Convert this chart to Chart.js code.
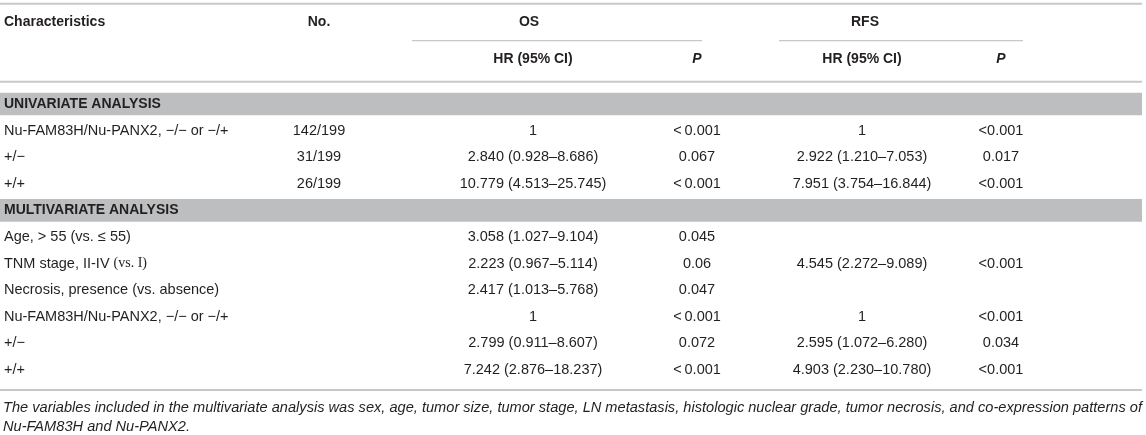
<!DOCTYPE html>
<html>
<head>
<meta charset="utf-8">
<script src="https://cdn.jsdelivr.net/npm/chart.js@4.4.1/dist/chart.umd.min.js"></script>
<style>
  html, body { margin: 0; padding: 0; background: #fff; }
  #wrap { width: 1146px; height: 435px; position: relative; }
</style>
</head>
<body>
<div id="wrap"><canvas id="myChart"></canvas></div>
<script>
// table content
var headerTop = ['Characteristics', 'No.', 'OS', 'RFS']
var headerSub = ['HR (95% CI)', 'P', 'HR (95% CI)', 'P']

var rowLabels = [
  'UNIVARIATE ANALYSIS',
  'Nu-FAM83H/Nu-PANX2, \u2212/\u2212 or \u2212/+',
  '+/\u2212',
  '+/+',
  'MULTIVARIATE ANALYSIS',
  'Age, > 55 (vs. \u2264 55)',
  'TNM stage, II-IV (vs. I)',
  'Necrosis, presence (vs. absence)',
  'Nu-FAM83H/Nu-PANX2, \u2212/\u2212 or \u2212/+',
  '+/\u2212',
  '+/+'
]
var sectionRows = [true, false, false, false, true, false, false, false, false, false, false]
var patientNo = ['', '142/199', '31/199', '26/199', '', '', '', '', '', '', '']
var osHR = ['', '1', '2.840 (0.928\u20138.686)', '10.779 (4.513\u201325.745)', '',
  '3.058 (1.027\u20139.104)', '2.223 (0.967\u20135.114)', '2.417 (1.013\u20135.768)',
  '1', '2.799 (0.911\u20138.607)', '7.242 (2.876\u201318.237)']
var osP = ['', '<\u20090.001', '0.067', '<\u20090.001', '', '0.045', '0.06', '0.047', '<\u20090.001', '0.072', '<\u20090.001']
var rfsHR = ['', '1', '2.922 (1.210\u20137.053)', '7.951 (3.754\u201316.844)', '',
  '', '4.545 (2.272\u20139.089)', '', '1', '2.595 (1.072\u20136.280)', '4.903 (2.230\u201310.780)']
var rfsP = ['', '<0.001', '0.017', '<0.001', '', '', '<0.001', '', '<0.001', '0.034', '<0.001']

var footnote = [
  'The variables included in the multivariate analysis was sex, age, tumor size, tumor stage, LN metastasis, histologic nuclear grade, tumor necrosis, and co-expression patterns of',
  'Nu-FAM83H and Nu-PANX2.'
]

// column anchors on the x scale (0..1146)
var col = {
  label: 4, no: 319,
  osHead: 529, osLine: [412, 702], osHR: 533, osP: 697,
  rfsHead: 865, rfsLine: [779, 1023], rfsHR: 862, rfsP: 1001,
  right: 1142
}
var textColor = '#231f20'
var ruleColor = '#c8c8c8'
var sans = 'Liberation Sans, Arial, Helvetica, sans-serif'

var tablePlugin = {
  id: 'tableText',
  afterDatasetsDraw: function (chart) {
    var ctx = chart.ctx
    var x = chart.scales.x
    var y = chart.scales.y
    var top = chart.chartArea.top
    var px = function (v) { return x.getPixelForValue(v) }

    ctx.save()
    ctx.textBaseline = 'middle'
    ctx.fillStyle = textColor

    // rules
    var rule = function (x0, x1, yy, w) {
      ctx.strokeStyle = ruleColor
      ctx.lineWidth = w
      ctx.beginPath()
      ctx.moveTo(px(x0), yy)
      ctx.lineTo(px(x1), yy)
      ctx.stroke()
    }
    rule(0, col.right, top - 87, 2)
    rule(col.osLine[0], col.osLine[1], top - 50, 1.2)
    rule(col.rfsLine[0], col.rfsLine[1], top - 50, 1.2)
    rule(0, col.right, top - 9, 2)
    var lastY = y.getPixelForValue(rowLabels.length - 1)
    rule(0, col.right, lastY + 20, 2)

    // header
    var h1 = top - 69
    var h2 = top - 32
    ctx.font = 'bold 14px ' + sans
    ctx.textAlign = 'left'
    ctx.fillText(headerTop[0], px(col.label), h1)
    ctx.textAlign = 'center'
    ctx.fillText(headerTop[1], px(col.no), h1)
    ctx.fillText(headerTop[2], px(col.osHead), h1)
    ctx.fillText(headerTop[3], px(col.rfsHead), h1)
    ctx.fillText(headerSub[0], px(col.osHR), h2)
    ctx.fillText(headerSub[2], px(col.rfsHR), h2)
    ctx.font = 'italic bold 14px ' + sans
    ctx.fillText(headerSub[1], px(col.osP), h2)
    ctx.fillText(headerSub[3], px(col.rfsP), h2)

    // body rows
    var bodyFont = '14.5px ' + sans
    rowLabels.forEach(function (label, i) {
      var yy = y.getPixelForValue(i)
      ctx.textAlign = 'left'
      if (sectionRows[i]) {
        ctx.font = 'bold 14px ' + sans
        ctx.fillText(label, px(col.label), yy)
        return
      }
      ctx.font = bodyFont
      var serifPart = '(vs. I)'
      if (label.endsWith(serifPart)) {
        var head = label.slice(0, label.length - serifPart.length)
        ctx.fillText(head, px(col.label), yy)
        var w = ctx.measureText(head).width
        ctx.font = '14px Liberation Serif, Times New Roman, serif'
        ctx.fillText(serifPart, px(col.label) + w, yy)
        ctx.font = bodyFont
      } else {
        ctx.fillText(label, px(col.label), yy)
      }
      ctx.textAlign = 'center'
      ctx.fillText(patientNo[i], px(col.no), yy)
      ctx.fillText(osHR[i], px(col.osHR), yy)
      ctx.fillText(osP[i], px(col.osP), yy)
      ctx.fillText(rfsHR[i], px(col.rfsHR), yy)
      ctx.fillText(rfsP[i], px(col.rfsP), yy)
    })

    // footnote, fitted to the table width like the condensed original
    ctx.textAlign = 'left'
    ctx.font = 'italic 14.5px ' + sans
    var full = ctx.measureText(footnote[0]).width
    var sx = (px(col.right) - px(3)) / full
    footnote.forEach(function (line, i) {
      ctx.save()
      ctx.translate(px(3), lastY + 38 + i * 19)
      ctx.scale(sx, 1)
      ctx.fillText(line, 0, 0)
      ctx.restore()
    })
    ctx.restore()
  }
}

var ctx = document.getElementById('myChart')
var tableChart = new Chart(ctx, {
  type: 'bar',
  data: {
    labels: rowLabels,
    datasets: [
      {
        // grey bands behind the section titles
        data: sectionRows.map(function (s) { return s ? [0, col.right] : null }),
        backgroundColor: '#bcbec0',
        borderWidth: 0,
        barPercentage: 0.85,
        categoryPercentage: 1
      }
    ]
  },
  options: {
    indexAxis: 'y',
    responsive: true,
    maintainAspectRatio: false,
    animation: false,
    events: [],
    layout: { padding: { top: 90.7, bottom: 51.7, left: 0, right: 0 } },
    scales: {
      x: { type: 'linear', min: 0, max: 1146, display: false },
      y: { type: 'category', display: false, offset: true }
    },
    plugins: { legend: { display: false }, tooltip: { enabled: false } }
  },
  plugins: [tablePlugin]
})
</script>
</body>
</html>
